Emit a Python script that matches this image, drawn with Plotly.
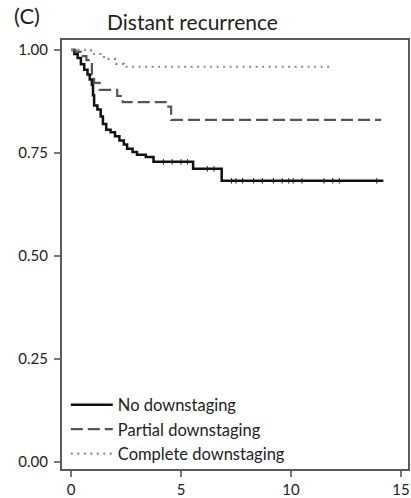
import plotly.graph_objects as go

# --- data (step survival curves) ---
no_t = [0, 0.15, 0.3, 0.45, 0.6, 0.75, 0.85, 0.95, 1.0, 1.05, 1.2, 1.35, 1.45, 1.6, 1.8, 2.0, 2.2, 2.4,
        2.55, 2.8, 3.0, 3.4, 3.75, 5.55, 6.85, 14.2]
no_s = [1.0, 0.99, 0.98, 0.965, 0.952, 0.94, 0.928, 0.915, 0.89, 0.865, 0.855, 0.838, 0.82, 0.806, 0.8,
        0.79, 0.78, 0.77, 0.76, 0.752, 0.745, 0.74, 0.728, 0.711, 0.682, 0.682]

part_t = [0, 0.2, 0.45, 0.7, 0.95, 1.05, 1.3, 2.1, 2.35, 4.3, 4.55, 14.1]
part_s = [1.0, 0.995, 0.985, 0.975, 0.94, 0.92, 0.903, 0.888, 0.873, 0.862, 0.83, 0.83]

comp_t = [0, 0.9, 1.5, 2.05, 2.4, 11.9]
comp_s = [1.0, 0.99, 0.978, 0.966, 0.959, 0.959]

# censoring marks on the no-downstaging curve
cens_t = [4.2, 4.6, 5.0, 5.3, 6.2, 6.5, 7.3, 7.5, 7.8, 8.3, 8.7, 9.2, 9.6, 9.9, 10.1, 10.5, 11.5, 11.9, 12.2, 13.9]
cens_s = [0.728, 0.728, 0.728, 0.728, 0.711, 0.711, 0.682, 0.682, 0.682, 0.682, 0.682, 0.682, 0.682, 0.682,
          0.682, 0.682, 0.682, 0.682, 0.682, 0.682]

names = ["No downstaging", "Partial downstaging", "Complete downstaging"]
x_ticks = [0, 5, 10, 15]
y_ticks = [0, 0.25, 0.5, 0.75, 1.0]

FONT = "Lato"

fig = go.Figure()
fig.add_trace(go.Scatter(x=no_t, y=no_s, mode="lines", line=dict(shape="hv", color="#111111", width=2.5),
                         name=names[0], legendgroup="a"))
fig.add_trace(go.Scatter(x=part_t, y=part_s, mode="lines",
                         line=dict(shape="hv", color="#555555", width=2.2, dash="12px,5px"),
                         name=names[1], legendgroup="b"))
fig.add_trace(go.Scatter(x=comp_t, y=comp_s, mode="lines",
                         line=dict(shape="hv", color="#8a8a8a", width=2.2, dash="2px,4.5px"),
                         name=names[2], legendgroup="c"))
fig.add_trace(go.Scatter(x=cens_t, y=cens_s, mode="markers", showlegend=False, hoverinfo="skip",
                         marker=dict(symbol="line-ns-open", size=4, color="#222222",
                                     line=dict(width=1, color="#222222"))))

axis_common = dict(showline=True, mirror=True, linecolor="#5a5a5a", linewidth=2, showgrid=False,
                   zeroline=False, ticks="outside", tickcolor="#777777", ticklen=6, tickwidth=1.5,
                   automargin=False,
                   tickfont=dict(family=FONT, size=15, color="#222222"))

fig.update_layout(
    width=411, height=498,
    margin=dict(l=62, r=3, t=40, b=29, autoexpand=False),
    paper_bgcolor="white", plot_bgcolor="white",
    font=dict(family=FONT, color="#222222"),
    xaxis=dict(range=[-0.41, 15.32], tickvals=x_ticks, **axis_common),
    yaxis=dict(range=[-0.018, 1.024], tickvals=y_ticks, tickformat=".2f", ticklabelstandoff=3,
               **axis_common),
    legend=dict(x=0.011, y=0.19, xanchor="left", yanchor="top", bgcolor="rgba(0,0,0,0)",
                font=dict(family=FONT, size=16.5, color="#222222"), itemwidth=42,
                traceorder="grouped", tracegroupgap=0),
    annotations=[
        dict(text="Distant recurrence", xref="paper", yref="paper", x=0.376, y=1.042,
             xanchor="center", yanchor="middle", showarrow=False,
             font=dict(family=FONT, size=21, color="#222222")),
        dict(text="(C)", xref="paper", yref="paper", x=-0.144, y=1.093,
             xanchor="left", yanchor="top", showarrow=False,
             font=dict(family=FONT, size=22, color="#222222")),
    ],
)

fig.write_html("out.html", config={"displayModeBar": False},
               post_script="document.body.style.margin='0';")
